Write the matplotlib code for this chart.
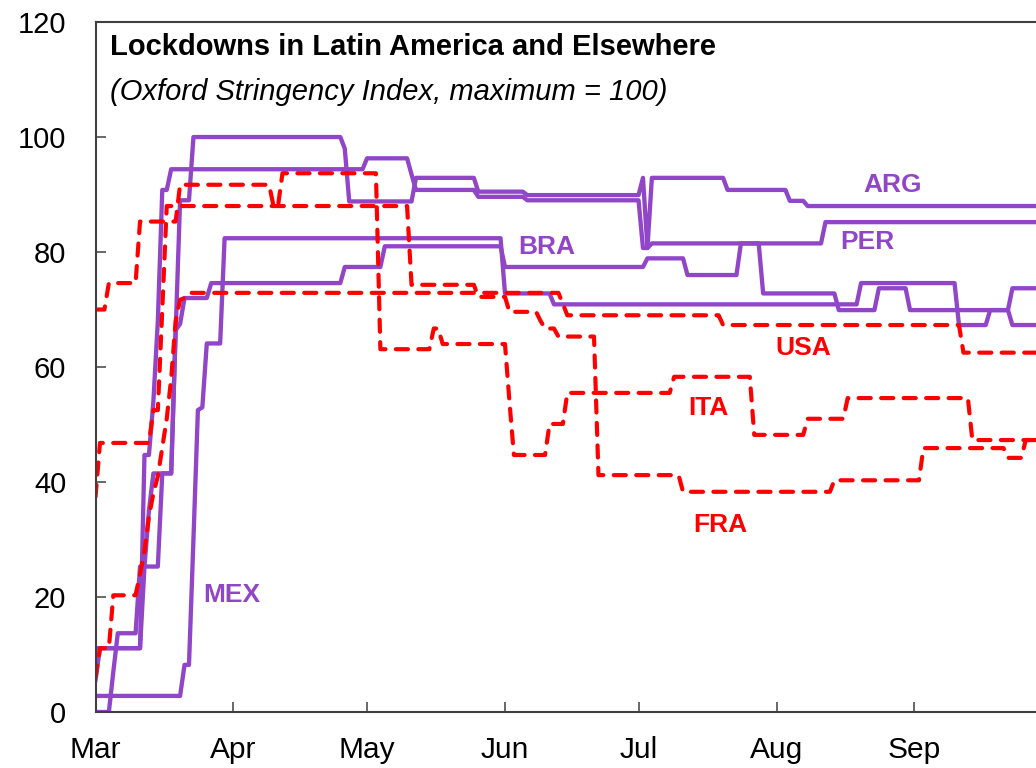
import pandas as pd
import matplotlib
matplotlib.use("Agg")
import matplotlib.pyplot as plt
import matplotlib.dates as mdates

plt.rcParams['font.family'] = ['Liberation Sans', 'DejaVu Sans']

# Oxford Stringency Index, change points (value holds until next date)
arg_dates = ['2020-03-01', '2020-03-12', '2020-03-13', '2020-03-14', '2020-03-19', '2020-03-20',
             '2020-03-23', '2020-04-26', '2020-04-27', '2020-05-12', '2020-05-26', '2020-06-06',
             '2020-07-02', '2020-07-03', '2020-07-04', '2020-07-21', '2020-08-04', '2020-08-08']
arg_vals = [11.1, 25.3, 35.0, 41.5, 66.0, 89.0, 100.0, 98.0, 88.8, 92.9, 90.5, 89.9,
            92.9, 80.7, 92.9, 90.8, 88.9, 88.0]

per_dates = ['2020-03-01', '2020-03-02', '2020-03-12', '2020-03-14', '2020-03-15', '2020-03-16',
             '2020-03-18', '2020-05-01', '2020-05-11', '2020-05-12', '2020-05-26', '2020-06-06',
             '2020-07-02', '2020-07-04', '2020-08-12']
per_vals = [5.6, 11.1, 44.7, 54.0, 68.0, 90.8, 94.4, 96.3, 93.5, 90.8, 89.6, 89.0,
            80.7, 81.5, 85.2]

bra_dates = ['2020-03-01', '2020-03-05', '2020-03-06', '2020-03-11', '2020-03-16', '2020-03-19',
             '2020-03-20', '2020-03-21', '2020-03-27', '2020-04-26', '2020-05-05', '2020-06-01',
             '2020-07-03', '2020-07-12', '2020-07-24', '2020-07-29', '2020-08-15', '2020-08-24',
             '2020-08-31', '2020-09-23']
bra_vals = [0.0, 7.0, 13.7, 25.3, 41.5, 66.4, 67.5, 72.0, 74.6, 77.4, 81.0, 77.4,
            78.9, 76.0, 81.5, 72.8, 69.9, 73.7, 69.9, 73.7]

mex_dates = ['2020-03-01', '2020-03-21', '2020-03-23', '2020-03-24', '2020-03-25', '2020-03-26',
             '2020-03-30', '2020-06-01', '2020-06-12', '2020-08-20', '2020-09-11', '2020-09-18',
             '2020-09-23']
mex_vals = [2.8, 8.2, 30.0, 52.5, 53.0, 64.1, 82.4, 72.8, 70.9, 74.6, 67.3, 69.9, 67.3]

ita_dates = ['2020-03-01', '2020-03-04', '2020-03-11', '2020-03-20', '2020-04-10', '2020-04-12',
             '2020-05-04', '2020-05-16', '2020-05-18', '2020-06-02', '2020-06-03', '2020-06-11',
             '2020-06-15', '2020-07-09', '2020-07-27', '2020-08-08', '2020-08-17', '2020-09-14']
ita_vals = [70.0, 74.6, 85.3, 91.7, 88.0, 93.7, 63.1, 66.7, 64.0, 54.0, 44.7, 50.1,
            55.5, 58.3, 48.2, 51.0, 54.6, 47.3]

fra_dates = ['2020-03-01', '2020-03-02', '2020-03-14', '2020-03-16', '2020-03-17', '2020-05-11',
             '2020-05-26', '2020-06-02', '2020-06-09', '2020-06-10', '2020-06-13', '2020-06-22',
             '2020-07-11', '2020-08-14', '2020-09-03', '2020-09-22', '2020-09-26']
fra_vals = [37.4, 46.8, 52.5, 70.0, 88.0, 74.3, 72.2, 69.6, 68.0, 66.7, 65.3, 41.2,
            38.3, 40.3, 45.9, 44.2, 47.3]

usa_dates = ['2020-03-01', '2020-03-02', '2020-03-05', '2020-03-11', '2020-03-12', '2020-03-13',
             '2020-03-14', '2020-03-15', '2020-03-16', '2020-03-17', '2020-03-18', '2020-03-19',
             '2020-03-20', '2020-03-21', '2020-03-22', '2020-06-14', '2020-06-15', '2020-07-20',
             '2020-09-12']
usa_vals = [6.0, 11.1, 20.3, 24.0, 28.0, 34.0, 38.0, 41.0, 46.0, 51.0, 58.0, 68.0,
            71.7, 72.0, 72.9, 71.0, 69.0, 67.3, 62.5]

days = pd.date_range('2020-03-01', '2020-09-30', freq='D')


def daily(dates, vals):
    s = pd.Series(vals, index=pd.to_datetime(dates))
    return s.reindex(days).ffill()


purple = '#9146C8'
red = '#FF0000'

fig = plt.figure(figsize=(10.36, 7.68), dpi=100)
ax = fig.add_axes([0.0922, 0.0729, 0.9108, 0.8984])

for d, v in [(arg_dates, arg_vals), (per_dates, per_vals), (bra_dates, bra_vals), (mex_dates, mex_vals)]:
    ax.plot(days, daily(d, v), color=purple, lw=3.1, solid_joinstyle='round')

for d, v in [(usa_dates, usa_vals), (fra_dates, fra_vals), (ita_dates, ita_vals)]:
    ax.plot(days, daily(d, v), color=red, lw=3.0, linestyle=(0, (2.9, 2.5)),
            dash_capstyle='round', dash_joinstyle='round')

start = mdates.date2num(pd.Timestamp('2020-03-01'))
ax.set_xlim(start, start + 212)
ax.set_ylim(0, 120)
ax.set_yticks(range(0, 121, 20))
ax.xaxis.set_major_locator(mdates.MonthLocator())
ax.xaxis.set_major_formatter(mdates.DateFormatter('%b'))
ax.tick_params(axis='both', direction='in', length=7, width=1.1, color='#404040')
ax.tick_params(axis='x', pad=17, labelsize=21.5)
ax.tick_params(axis='y', pad=21, labelsize=21)
for side in ['left', 'bottom', 'top', 'right']:
    ax.spines[side].set_color('#404040')
    ax.spines[side].set_linewidth(1.5)

# series labels
labels = [('ARG', '2020-08-20 12:00', 90.4, purple), ('PER', '2020-08-15 07:00', 80.5, purple),
          ('BRA', '2020-06-04 00:00', 79.65, purple), ('MEX', '2020-03-25 05:00', 19.2, purple),
          ('USA', '2020-07-31 17:00', 62.1, red), ('ITA', '2020-07-12 05:00', 51.65, red),
          ('FRA', '2020-07-13 07:00', 31.3, red)]
for name, when, y, col in labels:
    ax.text(mdates.date2num(pd.Timestamp(when)), y, name, color=col, fontsize=19,
            fontweight='bold', ha='left', va='baseline')

ax.text(0.0154, 0.952, 'Lockdowns in Latin America and Elsewhere', transform=ax.transAxes,
        fontsize=21, fontweight='bold', ha='left', va='baseline')
ax.text(0.0154, 0.887, '(Oxford Stringency Index, maximum = 100)', transform=ax.transAxes,
        fontsize=21, style='italic', ha='left', va='baseline')

fig.savefig('out.png', dpi=100)
